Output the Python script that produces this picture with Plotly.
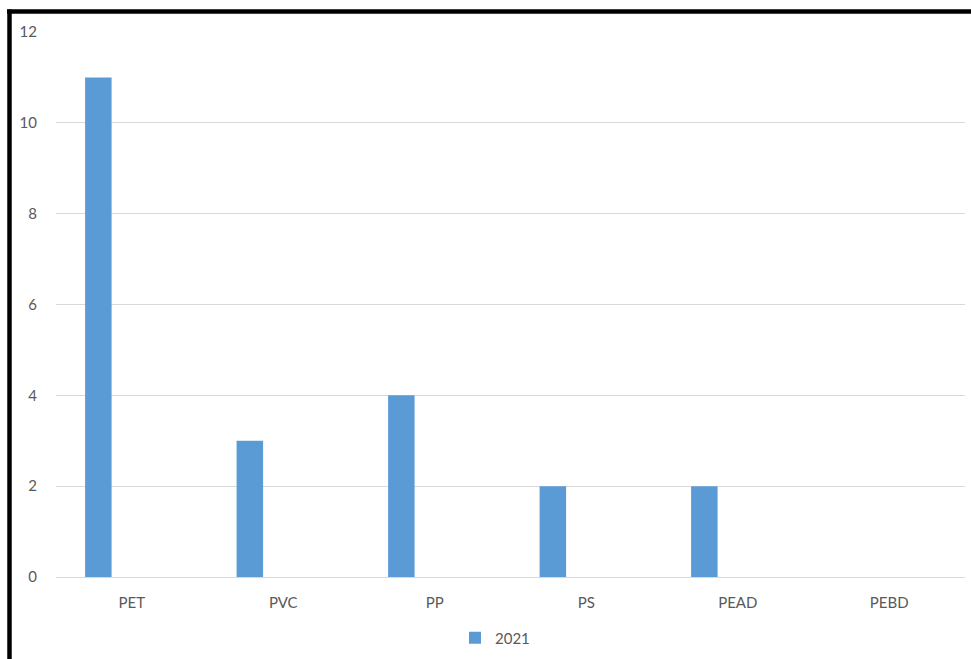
import plotly.graph_objects as go

categories = ["PET", "PVC", "PP", "PS", "PEAD", "PEBD"]
values_2021 = [11, 3, 4, 2, 2, None]
y_ticks = [0, 2, 4, 6, 8, 10, 12]

W, H = 971, 659
L, R, T, B = 56, 6, 32, 81
pw = W - L - R
ph = H - T - B

def px(x):
    return (x - L) / pw

def py(y):
    return (H - B - y) / ph

fig = go.Figure()
fig.add_trace(go.Bar(
    x=categories, y=values_2021, name="2021",
    marker=dict(color="#5B9BD5", line=dict(width=0)),
    width=0.175, offset=-0.308,
))

fig.update_layout(
    width=W, height=H,
    margin=dict(l=L, r=R, t=T, b=B, pad=0),
    paper_bgcolor="white", plot_bgcolor="white",
    font=dict(family="Lato, 'Open Sans', sans-serif", size=14, color="#595959"),
    showlegend=True,
    legend=dict(orientation="h", x=px(455), xanchor="left", y=py(638), yanchor="middle",
                font=dict(size=15, color="#595959"), itemwidth=30),
    xaxis=dict(showgrid=False, showline=False, ticks="", tickfont=dict(size=15),
               ticklabelstandoff=15),
    yaxis=dict(range=[0, 12], tickvals=y_ticks, showgrid=True, gridcolor="#d9d9d9",
               gridwidth=1, zeroline=True, zerolinecolor="#d9d9d9", zerolinewidth=1,
               showline=False, ticks="", tickfont=dict(size=15), ticklabelstandoff=18),
    shapes=[
        dict(type="line", xref="paper", yref="paper", x0=px(7), x1=px(975),
             y0=py(11.5), y1=py(11.5), line=dict(color="black", width=4.5)),
        dict(type="line", xref="paper", yref="paper", x0=px(9.5), x1=px(9.5),
             y0=py(9.5), y1=py(665), line=dict(color="black", width=4.5)),
    ],
)

fig.write_html("out.html")
